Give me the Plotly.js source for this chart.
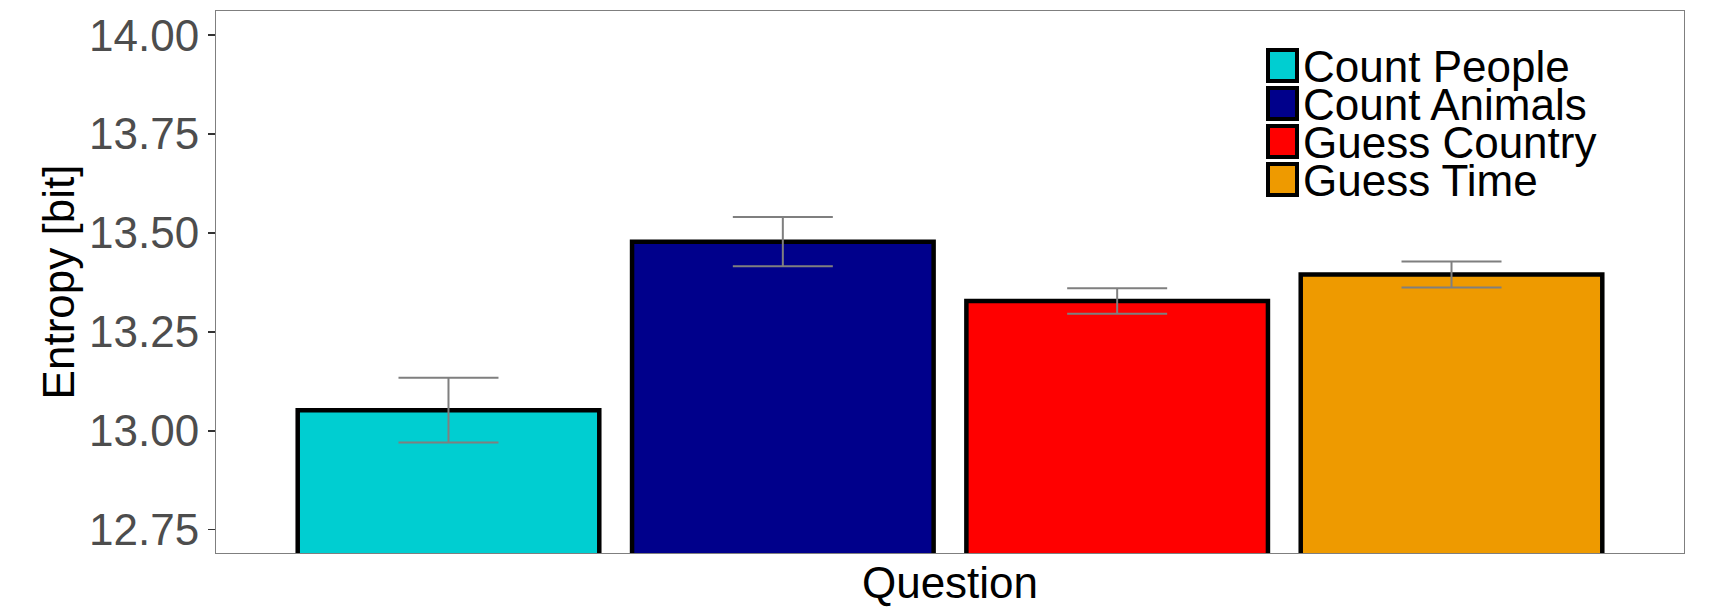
<!DOCTYPE html>
<html>
<head>
<meta charset="utf-8">
<script src="https://cdn.plot.ly/plotly-3.0.1.min.js"></script>
<style>
  html, body { margin: 0; padding: 0; background: #fff; }
  #chart { width: 1731px; height: 609px; }
</style>
</head>
<body>
<div id="chart"></div>
<script>
// one dodged group of four questions
const questions = ['Count People', 'Count Animals', 'Guess Country', 'Guess Time'];
const entropy = [13.052, 13.478, 13.328, 13.395];
const stdErr = [0.082, 0.062, 0.032, 0.033];
const barColors = ['#00CED1', '#00008B', '#FF0000', '#EE9A00'];
const group = [''];

const FONT = 'Liberation Sans, Arial, Helvetica, sans-serif';

// plot area in pixels, used to place the hand-built legend
const M = { l: 216, r: 47, t: 11, b: 56 };
const W = 1731, H = 609;
const plotW = W - M.l - M.r, plotH = H - M.t - M.b;
const px = x => (x - M.l) / plotW;
const py = y => 1 - (y - M.t) / plotH;

const traces = questions.map((q, i) => ({
    type: 'bar',
    name: q,
    x: group,
    y: [entropy[i]],
    marker: { color: barColors[i], line: { color: '#000', width: 4.5 } },
    error_y: { type: 'data', array: [stdErr[i]], visible: true, color: '#7F7F7F', thickness: 2, width: 50 },
    showlegend: false,
    hoverinfo: 'skip'
}));

// legend: ggplot-style tight rows (plotly's own legend spaces them too far apart)
const legTop = 48, legStep = 38, swW = 33, swH = 35, swX = 1266;
const shapes = [], annotations = [];
questions.forEach((q, i) => {
    const top = legTop + i * legStep;
    shapes.push({
        type: 'rect', xref: 'paper', yref: 'paper',
        x0: px(swX + 2), x1: px(swX + swW - 2),
        y0: py(top + swH - 2), y1: py(top + 2),
        fillcolor: barColors[i], line: { color: '#000', width: 4 }
    });
    annotations.push({
        xref: 'paper', yref: 'paper', x: px(swX + swW + 2), y: py(top + swH / 2 + 1),
        xanchor: 'left', yanchor: 'middle', showarrow: false,
        text: q, font: { family: FONT, size: 44, color: '#000' }
    });
});

const layout = {
    width: W, height: H,
    margin: M,
    paper_bgcolor: '#fff', plot_bgcolor: '#fff',
    barmode: 'group', bargap: 0.089, bargroupgap: 0.098,
    font: { family: FONT },
    xaxis: {
        showticklabels: false, ticks: '', showgrid: false, zeroline: false,
        showline: true, mirror: true, linecolor: '#7F7F7F', linewidth: 1,
        title: { text: 'Question', font: { family: FONT, size: 44, color: '#000' }, standoff: 14 }
    },
    yaxis: {
        range: [12.691, 14.061],
        tickvals: [12.75, 13.0, 13.25, 13.5, 13.75, 14.0],
        ticktext: ['12.75', '13.00', '13.25', '13.50', '13.75', '14.00'],
        ticks: 'outside', ticklen: 7, tickwidth: 1.5, tickcolor: '#333',
        tickfont: { family: FONT, size: 44, color: '#4D4D4D' },
        showgrid: false, zeroline: false,
        showline: true, mirror: true, linecolor: '#7F7F7F', linewidth: 1,
        automargin: true,
        title: { text: 'Entropy [bit]', font: { family: FONT, size: 44, color: '#000' }, standoff: 0 }
    },
    shapes: shapes,
    annotations: annotations
};

Plotly.newPlot('chart', traces, layout, { displayModeBar: false, staticPlot: true });
</script>
</body>
</html>
